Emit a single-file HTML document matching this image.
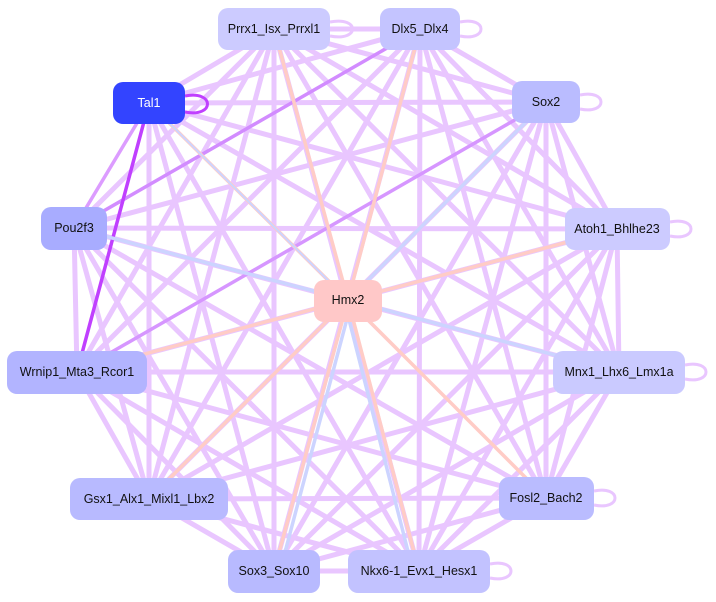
<!DOCTYPE html>
<html><head><meta charset="utf-8"><style>
html,body{margin:0;padding:0;background:#fff;}
svg{display:block;}
text{font-family:"Liberation Sans",sans-serif;font-size:12.5px;text-anchor:middle;dominant-baseline:central;fill:#111;}
</style></head><body>
<svg width="716" height="602" viewBox="0 0 716 602">
<g stroke="#e9c6ff" stroke-width="5" stroke-linecap="round" fill="none">
<line x1="274" y1="29" x2="420" y2="29"/><line x1="274" y1="29" x2="149" y2="103"/><line x1="274" y1="29" x2="546" y2="102"/><line x1="274" y1="29" x2="74" y2="228"/><line x1="274" y1="29" x2="617" y2="229"/><line x1="274" y1="29" x2="77" y2="372"/><line x1="274" y1="29" x2="619" y2="372"/><line x1="274" y1="29" x2="149" y2="499"/><line x1="274" y1="29" x2="546" y2="498"/><line x1="274" y1="29" x2="274" y2="571"/><line x1="274" y1="29" x2="419" y2="571"/>
<line x1="420" y1="29" x2="149" y2="103"/><line x1="420" y1="29" x2="546" y2="102"/><line x1="420" y1="29" x2="617" y2="229"/><line x1="420" y1="29" x2="77" y2="372"/><line x1="420" y1="29" x2="619" y2="372"/><line x1="420" y1="29" x2="149" y2="499"/><line x1="420" y1="29" x2="546" y2="498"/><line x1="420" y1="29" x2="274" y2="571"/><line x1="420" y1="29" x2="419" y2="571"/>
<line x1="149" y1="103" x2="546" y2="102"/><line x1="149" y1="103" x2="617" y2="229"/><line x1="149" y1="103" x2="619" y2="372"/><line x1="149" y1="103" x2="149" y2="499"/><line x1="149" y1="103" x2="274" y2="571"/><line x1="149" y1="103" x2="419" y2="571"/>
<line x1="546" y1="102" x2="74" y2="228"/><line x1="546" y1="102" x2="617" y2="229"/><line x1="546" y1="102" x2="619" y2="372"/><line x1="546" y1="102" x2="149" y2="499"/><line x1="546" y1="102" x2="546" y2="498"/><line x1="546" y1="102" x2="274" y2="571"/><line x1="546" y1="102" x2="419" y2="571"/>
<line x1="74" y1="228" x2="617" y2="229"/><line x1="74" y1="228" x2="77" y2="372"/><line x1="74" y1="228" x2="619" y2="372"/><line x1="74" y1="228" x2="149" y2="499"/><line x1="74" y1="228" x2="546" y2="498"/><line x1="74" y1="228" x2="274" y2="571"/><line x1="74" y1="228" x2="419" y2="571"/>
<line x1="617" y1="229" x2="77" y2="372"/><line x1="617" y1="229" x2="619" y2="372"/><line x1="617" y1="229" x2="149" y2="499"/><line x1="617" y1="229" x2="546" y2="498"/><line x1="617" y1="229" x2="274" y2="571"/><line x1="617" y1="229" x2="419" y2="571"/>
<line x1="77" y1="372" x2="619" y2="372"/><line x1="77" y1="372" x2="149" y2="499"/><line x1="77" y1="372" x2="546" y2="498"/><line x1="77" y1="372" x2="274" y2="571"/><line x1="77" y1="372" x2="419" y2="571"/>
<line x1="619" y1="372" x2="149" y2="499"/><line x1="619" y1="372" x2="546" y2="498"/><line x1="619" y1="372" x2="274" y2="571"/><line x1="619" y1="372" x2="419" y2="571"/>
<line x1="149" y1="499" x2="546" y2="498"/><line x1="149" y1="499" x2="274" y2="571"/><line x1="149" y1="499" x2="419" y2="571"/>
<line x1="546" y1="498" x2="274" y2="571"/><line x1="546" y1="498" x2="419" y2="571"/><line x1="274" y1="571" x2="419" y2="571"/>
</g>
<g stroke-width="3.5" fill="none" stroke-linecap="round">
<line x1="420" y1="29" x2="74" y2="228" stroke="#d28cff"/>
<line x1="546" y1="102" x2="77" y2="372" stroke="#d696ff"/>
<line x1="149" y1="103" x2="77" y2="372" stroke="#c040ff"/>
<line x1="149" y1="103" x2="546" y2="498" stroke="#c050ff" stroke-width="2"/>
<line x1="149" y1="103" x2="74" y2="228" stroke="#dc9cff"/>
<line x1="348" y1="300" x2="149" y2="103" stroke="#ffccc6"/>
<line x1="348" y1="300" x2="274" y2="29" stroke="#ffccc6"/>
<line x1="348" y1="300" x2="420" y2="29" stroke="#ffccc6"/>
<line x1="348" y1="300" x2="546" y2="102" stroke="#ffccc6"/>
<line x1="348" y1="300" x2="617" y2="229" stroke="#ffccc6"/>
<line x1="348" y1="300" x2="77" y2="372" stroke="#ffccc6"/>
<line x1="348" y1="300" x2="149" y2="499" stroke="#ffccc6"/>
<line x1="348" y1="300" x2="274" y2="571" stroke="#ffccc6"/>
<line x1="348" y1="300" x2="419" y2="571" stroke="#ffccc6"/>
<line x1="348" y1="300" x2="546" y2="498" stroke="#ffccc6"/>
<line x1="74" y1="228" x2="348" y2="300" stroke="#ccd4ff"/>
<line x1="546" y1="102" x2="348" y2="300" stroke="#ccd4ff"/>
<line x1="619" y1="372" x2="348" y2="300" stroke="#ccd4ff"/>
<line x1="149" y1="103" x2="348" y2="300" stroke="#ccd4ff" stroke-width="2"/>
<line x1="280" y1="571" x2="352" y2="300" stroke="#ccd4ff"/>
<line x1="413" y1="571" x2="344" y2="300" stroke="#ccd4ff"/>
</g>
<g fill="none" stroke-width="3">
<path d="M185 96 C215 90 215 118 185 112" stroke="#c040ff"/>
<path d="M330 22 C360 16 360 42 330 36" stroke="#e9c6ff"/>
<path d="M460 22 C488 16 488 42 460 36" stroke="#e9c6ff"/>
<path d="M580 95 C608 89 608 115 580 109" stroke="#e9c6ff"/>
<path d="M670 222 C698 216 698 242 670 236" stroke="#e9c6ff"/>
<path d="M685 365 C713 359 713 385 685 379" stroke="#e9c6ff"/>
<path d="M594 491 C622 485 622 511 594 505" stroke="#e9c6ff"/>
<path d="M490 564 C518 558 518 584 490 578" stroke="#e9c6ff"/>
</g>
<g stroke="none">
<rect x="218" y="8" width="112" height="42" rx="10" fill="#cccbff"/>
<rect x="380" y="8" width="80" height="42" rx="10" fill="#c4c4ff"/>
<rect x="113" y="82" width="72" height="42" rx="10" fill="#3344ff"/>
<rect x="512" y="81" width="68" height="42" rx="10" fill="#babcff"/>
<rect x="41" y="207" width="66" height="43" rx="10" fill="#a8acff"/>
<rect x="565" y="208" width="105" height="42" rx="10" fill="#cccbff"/>
<rect x="314" y="280" width="68" height="42" rx="10" fill="#ffc8c8"/>
<rect x="7" y="351" width="140" height="43" rx="10" fill="#b2b4ff"/>
<rect x="553" y="351" width="132" height="43" rx="10" fill="#cacaff"/>
<rect x="70" y="478" width="158" height="42" rx="10" fill="#b8baff"/>
<rect x="499" y="477" width="95" height="43" rx="10" fill="#babcff"/>
<rect x="228" y="550" width="92" height="43" rx="10" fill="#b8baff"/>
<rect x="348" y="550" width="142" height="43" rx="10" fill="#c2c2ff"/>
</g>
<text x="274" y="29">Prrx1_Isx_Prrxl1</text>
<text x="420" y="29">Dlx5_Dlx4</text>
<text x="149" y="103" style="fill:#fff">Tal1</text>
<text x="546" y="102">Sox2</text>
<text x="74" y="228">Pou2f3</text>
<text x="617" y="229">Atoh1_Bhlhe23</text>
<text x="348" y="300">Hmx2</text>
<text x="77" y="372">Wrnip1_Mta3_Rcor1</text>
<text x="619" y="372">Mnx1_Lhx6_Lmx1a</text>
<text x="149" y="499">Gsx1_Alx1_Mixl1_Lbx2</text>
<text x="546" y="498">Fosl2_Bach2</text>
<text x="274" y="571">Sox3_Sox10</text>
<text x="419" y="571">Nkx6-1_Evx1_Hesx1</text>
</svg>
</body></html>
